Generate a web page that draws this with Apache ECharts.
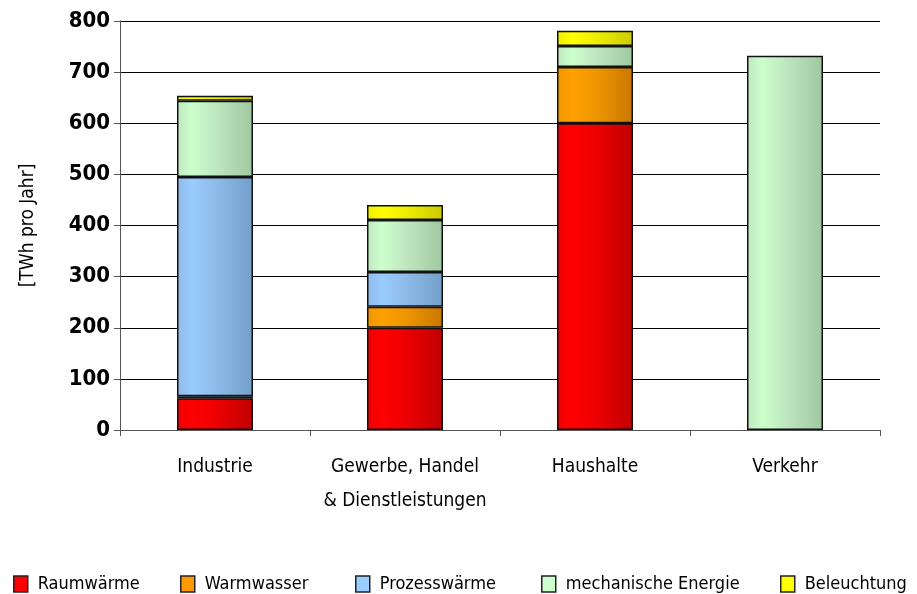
<!DOCTYPE html>
<html>
<head>
<meta charset="utf-8">
<script src="https://cdn.jsdelivr.net/npm/echarts@6/dist/echarts.min.js"></script>
<style>
  html, body { margin: 0; padding: 0; background: #fff; }
  #main { width: 917px; height: 594px; }
</style>
</head>
<body>
<div id="main"></div>
<script>
// Kategorien und Werte (TWh pro Jahr)
var categories = ['Industrie', 'Gewerbe, Handel\n& Dienstleistungen', 'Haushalte', 'Verkehr'];
var raumwaerme = [62, 200, 600, 0];
var warmwasser = [4, 41, 110, 0];
var prozesswaerme = [429, 68, 0, 0];
var mechanisch = [149, 102, 41, 732];
var beleuchtung = [10, 29, 30, 0];
var yTicks = [0, 100, 200, 300, 400, 500, 600, 700, 800];

var FONT = '"Liberation Sans Narrow", "DejaVu Sans Condensed", sans-serif';

function grad(light, mid, dark) {
  return new echarts.graphic.LinearGradient(0, 0, 1, 0, [
    {offset: 0, color: mid},
    {offset: 0.2, color: light},
    {offset: 0.5, color: mid},
    {offset: 1, color: dark}
  ]);
}

function serie(name, data, color, legendColor) {
  return {
    name: name,
    type: 'bar',
    stack: 'all',
    barWidth: '40%',
    data: data.map(function (v) { return v === 0 ? null : v; }),
    itemStyle: {color: color, borderColor: '#111', borderWidth: 1.5},
    legendColor: legendColor
  };
}

var series = [
  serie('Raumwärme', raumwaerme, grad('#ff0000', '#ee0000', '#c00000'), '#ff0000'),
  serie('Warmwasser', warmwasser, grad('#ffa000', '#f09600', '#c87800'), '#ff9900'),
  serie('Prozesswärme', prozesswaerme, grad('#99ccff', '#8fbbe9', '#739fca'), '#99ccff'),
  serie('mechanische Energie', mechanisch, grad('#ccffcc', '#bfe8c0', '#9fc8a0'), '#ccffcc'),
  serie('Beleuchtung', beleuchtung, grad('#ffff00', '#eeee00', '#cccc00'), '#ffff00')
];

var legendLeft = [8, 175, 350, 536, 775];
var legends = series.map(function (s, i) {
  return {
    left: legendLeft[i],
    top: 570,
    itemGap: 0,
    itemWidth: 14,
    itemHeight: 16,
    icon: 'rect',
    selectedMode: false,
    textStyle: {fontFamily: FONT, fontSize: 18, color: '#000', padding: [0, 0, 0, 5]},
    data: [{name: s.name, itemStyle: {color: s.legendColor, borderColor: '#222', borderWidth: 1.5}}]
  };
});

var chart = echarts.init(document.getElementById('main'));
chart.setOption({
  animation: false,
  grid: {left: 120, right: 37, top: 21, bottom: 164},
  legend: legends,
  xAxis: {
    type: 'category',
    data: categories,
    axisLine: {lineStyle: {color: '#555', width: 1}},
    axisTick: {show: true, interval: 0, length: 6, lineStyle: {color: '#555'}},
    axisLabel: {interval: 0, fontFamily: FONT, fontSize: 19, color: '#000', lineHeight: 34, margin: 20}
  },
  yAxis: {
    type: 'value',
    min: 0,
    max: 800,
    interval: 100,
    name: '[TWh pro Jahr]',
    nameLocation: 'middle',
    nameGap: 82,
    nameRotate: 90,
    nameTextStyle: {fontFamily: FONT, fontSize: 19, color: '#000'},
    axisLine: {show: true, lineStyle: {color: '#555', width: 1}},
    axisTick: {show: true, length: 6, lineStyle: {color: '#555'}},
    axisLabel: {
      fontFamily: FONT, fontSize: 22, fontWeight: 'bold', color: '#000', margin: 10,
      formatter: function (v) { return yTicks.indexOf(v) >= 0 ? String(v) : ''; }
    },
    splitLine: {lineStyle: {color: '#000', width: 1}}
  },
  series: series
});
</script>
</body>
</html>
